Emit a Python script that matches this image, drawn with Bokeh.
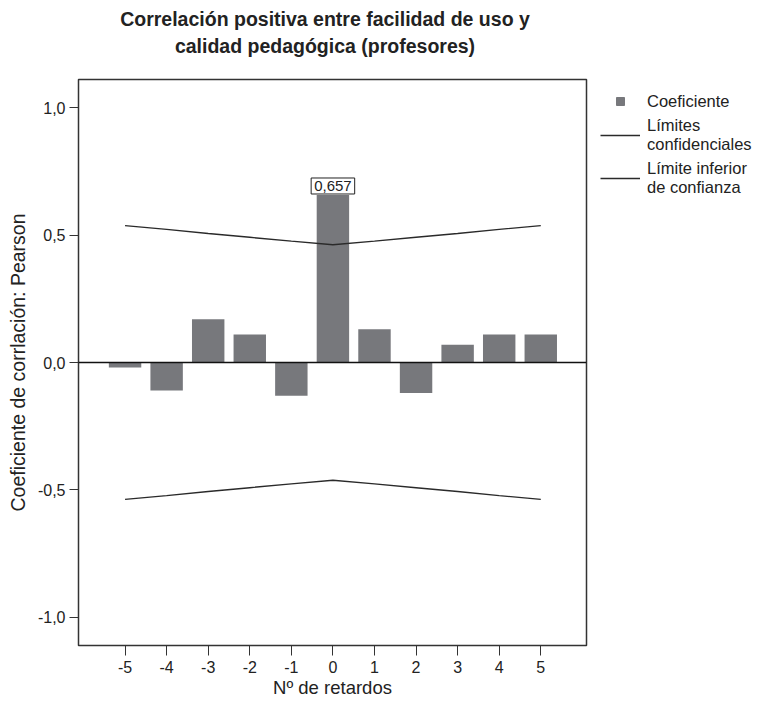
from bokeh.plotting import figure
from bokeh.models import (Span, Label, Legend, LegendItem, FixedTicker,
                          CustomJSTickFormatter, Range1d, Div)
from bokeh.layouts import row, column
from bokeh.embed import file_html
from bokeh.resources import INLINE

# ---- data ----
lags = [-5, -4, -3, -2, -1, 0, 1, 2, 3, 4, 5]
coef = [-0.02, -0.11, 0.17, 0.11, -0.13, 0.657, 0.13, -0.12, 0.07, 0.11, 0.11]
upper = [0.537, 0.522, 0.506, 0.491, 0.476, 0.462, 0.476, 0.491, 0.506, 0.522, 0.537]
lower = [-0.537, -0.522, -0.506, -0.491, -0.476, -0.462, -0.476, -0.491, -0.506, -0.522, -0.537]
y_ticks = [-1.0, -0.5, 0.0, 0.5, 1.0]
title_lines = ["Correlación positiva entre facilidad de uso y",
               "calidad pedagógica (profesores)"]
x_title = "Nº de retardos"
y_title = "Coeficiente de corrlación: Pearson"
legend_labels = ["Coeficiente", "Límites\nconfidenciales", "Límite inferior\nde confianza"]

FONT = "Liberation Sans"
TXT = "#222222"
BAR = "#77787c"
LINE = "#2a2a2a"

title = Div(text="<br>".join(title_lines), width=650, height=62,
            styles={"font-family": FONT, "font-size": "19.5px", "font-weight": "bold",
                    "line-height": "27px", "text-align": "center", "color": TXT,
                    "padding-top": "6px", "margin": "0", "width": "650px"})

p = figure(width=588, height=640, x_range=Range1d(-6.12, 6.1), y_range=Range1d(-1.11, 1.11),
           output_backend="svg", toolbar_location=None,
           min_border_left=78, min_border_right=2, min_border_top=17, min_border_bottom=57)
p.grid.visible = False
p.outline_line_color = "#333333"
p.outline_line_width = 1.5
p.background_fill_color = "white"

p.vbar(x=lags, top=coef, width=0.78, fill_color=BAR, line_color=None)
p.line(lags, upper, line_color=LINE, line_width=1.4)
p.line(lags, lower, line_color=LINE, line_width=1.4)
p.add_layout(Span(location=0, dimension="width", line_color="#111111", line_width=1.5))

i0 = lags.index(0)
lab = Label(x=lags[i0], y=coef[i0], text=f"{coef[i0]:.3f}".replace(".", ","),
            text_align="center", text_baseline="bottom", y_offset=1,
            text_font=FONT, text_font_size="15px", text_color=TXT,
            border_line_color="#222222", border_line_width=1,
            background_fill_color="white", padding=3)
p.add_layout(lab)

p.xaxis.ticker = FixedTicker(ticks=lags)
p.xaxis.formatter = CustomJSTickFormatter(code="return tick.toFixed(0);")
p.yaxis.ticker = FixedTicker(ticks=y_ticks)
p.yaxis.formatter = CustomJSTickFormatter(code="return tick.toFixed(1).replace('.', ',');")
for ax in (p.xaxis, p.yaxis):
    ax.major_tick_in = 0
    ax.minor_tick_line_color = None
    ax.axis_line_color = "#333333"
    ax.major_tick_line_color = "#333333"
    ax.major_label_text_font = FONT
    ax.major_label_text_font_size = "16px"
    ax.major_label_text_color = TXT
    ax.axis_label_text_font = FONT
    ax.axis_label_text_font_style = "normal"
    ax.axis_label_text_color = TXT
p.xaxis.axis_label_text_font_size = "18.5px"
p.yaxis.axis_label_text_font_size = "19.5px"
p.xaxis.major_tick_out = 10
p.yaxis.major_tick_out = 9
p.xaxis.major_label_standoff = 5
p.yaxis.major_label_standoff = 4
p.xaxis.axis_label = x_title
p.yaxis.axis_label = y_title
p.xaxis.axis_label_standoff = 1
p.yaxis.axis_label_standoff = 6

# ---- legend panel (proxy renderers sit outside this panel's visible ranges) ----
lf = figure(width=168, height=640, output_backend="svg", toolbar_location=None,
            x_range=(100, 101), y_range=(100, 101),
            min_border_left=0, min_border_right=0, min_border_top=17, min_border_bottom=0)
lf.axis.visible = False
lf.grid.visible = False
lf.outline_line_color = None
r1 = lf.scatter(x=[lags[0]], y=[coef[0]], marker="square", size=12, fill_color=BAR, line_color=BAR)
r2 = lf.line(x=lags, y=upper, line_color=LINE, line_width=1.4)
r3 = lf.line(x=lags, y=lower, line_color=LINE, line_width=1.4)
legend = Legend(items=[LegendItem(label=legend_labels[0], renderers=[r1]),
                       LegendItem(label=legend_labels[1], renderers=[r2]),
                       LegendItem(label=legend_labels[2], renderers=[r3])],
                location="top_left", margin=12, padding=8, spacing=5,
                glyph_width=40, glyph_height=20, label_standoff=7,
                label_text_font=FONT, label_text_font_size="16.5px", label_text_color=TXT,
                background_fill_alpha=0, border_line_color=None)
lf.add_layout(legend)

layout = column(title, row(p, lf))
open("out.html", "w").write(file_html(layout, INLINE))
